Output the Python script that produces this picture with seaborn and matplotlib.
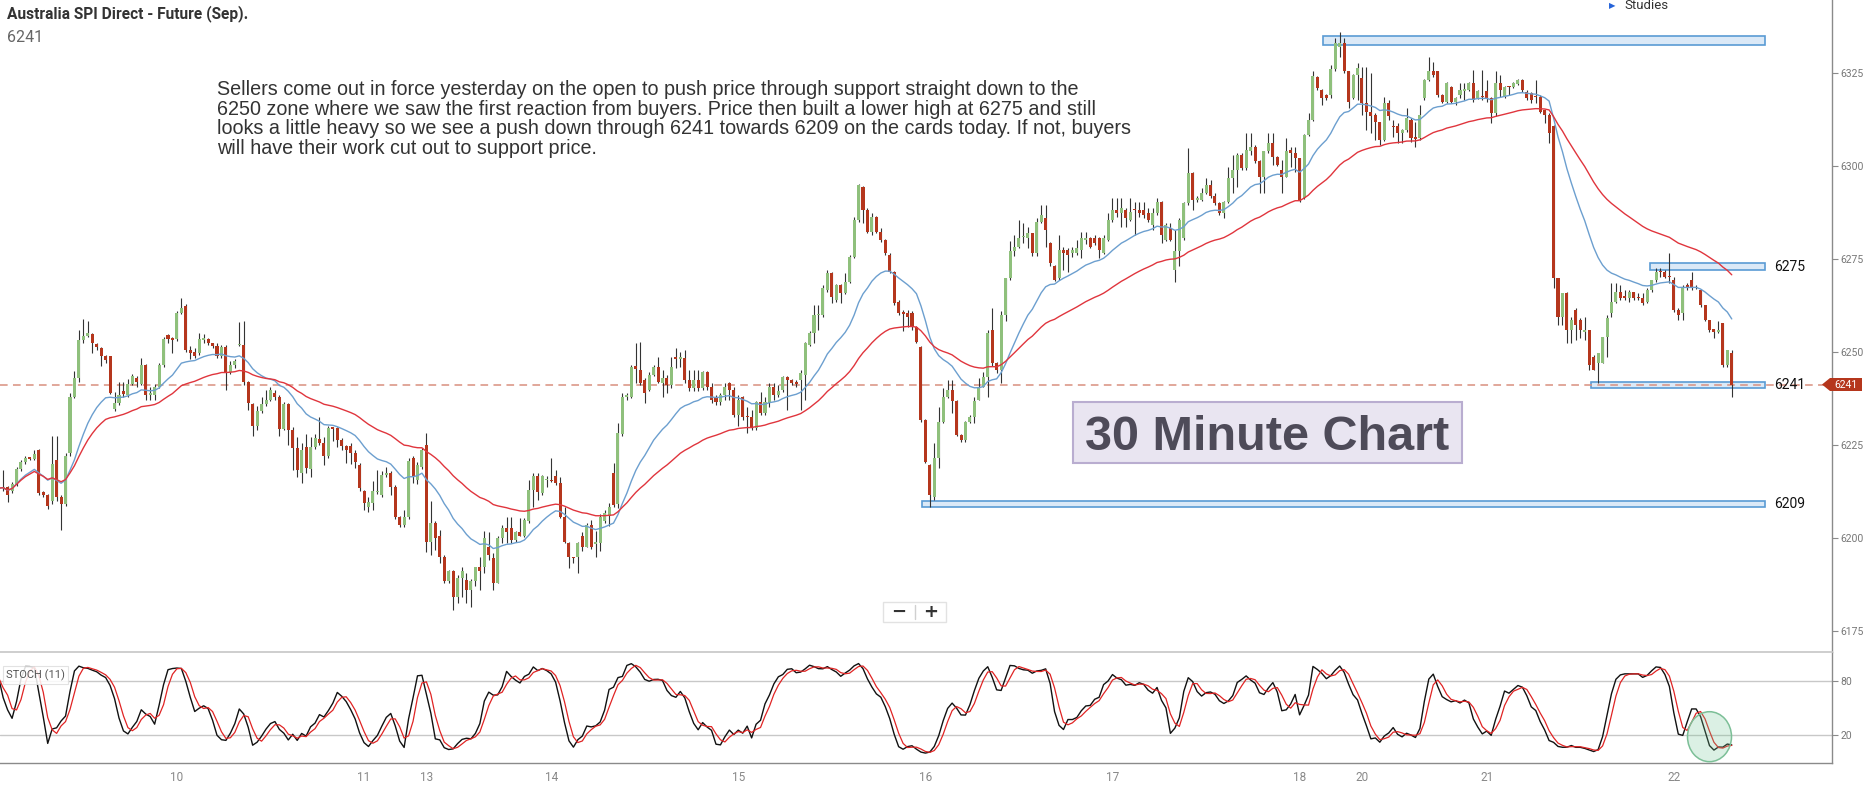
import numpy as np
import pandas as pd
import seaborn as sns
import matplotlib.pyplot as plt
from matplotlib.patches import Rectangle, Polygon, Ellipse
from matplotlib.lines import Line2D

W, H = 1868, 797

# 30 minute candles
opens = [
    6212.5, 6213.4, 6213.6, 6212.5, 6214.5, 6218.5, 6220.5, 6221.4, 6221.3, 6223.7,
    6212.3, 6211.6, 6210.0, 6221.0, 6211.0, 6209.2, 6222.8, 6238.0, 6243.0, 6253.1,
    6254.3, 6254.8, 6252.2, 6251.0, 6248.8, 6248.8, 6234.6, 6236.2, 6239.6, 6238.5,
    6241.4, 6242.9, 6241.5, 6246.5, 6238.5, 6238.3, 6240.5, 6246.5, 6254.6, 6253.4,
    6253.4, 6260.6, 6262.4, 6250.4, 6249.9, 6249.7, 6253.3, 6253.4, 6252.4, 6251.5,
    6248.8, 6251.3, 6244.5, 6246.4, 6251.8, 6252.0, 6242.0, 6236.0, 6230.0, 6234.2,
    6236.0, 6237.1, 6239.1, 6238.0, 6229.2, 6236.0, 6229.0, 6224.1, 6217.4, 6224.5,
    6218.5, 6224.5, 6226.5, 6225.5, 6221.9, 6229.5, 6229.5, 6226.4, 6224.6, 6224.6,
    6222.8, 6219.6, 6212.5, 6208.4, 6209.3, 6212.4, 6211.6, 6216.8, 6217.4, 6213.8,
    6205.7, 6203.5, 6205.7, 6221.4, 6215.6, 6219.2, 6225.0, 6199.0, 6204.0, 6200.4,
    6195.0, 6188.5, 6191.0, 6184.2, 6189.2, 6188.8, 6186.0, 6188.3, 6192.3, 6192.3,
    6197.7, 6194.5, 6188.0, 6200.0, 6202.6, 6202.6, 6199.5, 6201.7, 6200.5, 6204.5,
    6212.9, 6216.7, 6212.0, 6215.6, 6215.5, 6216.7, 6214.7, 6205.7, 6198.6, 6194.6,
    6195.0, 6200.4, 6197.7, 6203.5, 6198.5, 6198.6, 6204.5, 6206.0, 6217.4, 6209.0,
    6228.0, 6238.0, 6238.0, 6246.2, 6245.1, 6242.5, 6239.8, 6243.8, 6246.0, 6241.6,
    6242.9, 6241.1, 6248.3, 6248.2, 6248.3, 6242.5, 6240.2, 6242.5, 6240.2, 6244.6,
    6240.6, 6238.0, 6236.6, 6238.5, 6241.6, 6239.8, 6233.0, 6238.0, 6232.6, 6232.6,
    6229.5, 6236.6, 6233.5, 6236.2, 6240.6, 6238.5, 6239.8, 6243.4, 6242.5, 6241.6,
    6242.5, 6243.8, 6252.0, 6255.0, 6259.9, 6259.9, 6266.7, 6271.1, 6264.0, 6268.0,
    6265.8, 6268.9, 6275.6, 6285.5, 6294.4, 6288.2, 6282.3, 6286.4, 6282.3, 6280.1,
    6276.0, 6271.6, 6263.5, 6260.4, 6260.4, 6260.4, 6256.8, 6251.4, 6231.7, 6219.6,
    6211.1, 6221.4, 6231.3, 6238.0, 6239.8, 6236.7, 6227.7, 6226.4, 6231.3, 6232.6,
    6237.0, 6240.7, 6243.4, 6255.9, 6247.0, 6245.2, 6260.0, 6269.8, 6277.0, 6278.3,
    6280.8, 6280.6, 6281.9, 6276.5, 6285.0, 6285.9, 6279.2, 6273.0, 6269.8, 6277.4,
    6277.4, 6276.5, 6276.5, 6277.4, 6280.0, 6280.6, 6280.6, 6280.6, 6276.5, 6280.1,
    6285.5, 6288.2, 6287.3, 6288.2, 6285.5, 6288.2, 6288.2, 6288.2, 6287.3, 6284.1,
    6287.3, 6290.4, 6280.1, 6283.2, 6272.1, 6277.0, 6280.6, 6290.0, 6298.0, 6290.9,
    6290.9, 6292.7, 6294.9, 6291.8, 6290.0, 6287.3, 6290.4, 6296.7, 6298.9, 6303.0,
    6299.4, 6303.9, 6305.2, 6301.2, 6297.1, 6303.9, 6306.1, 6302.5, 6298.9, 6297.1,
    6304.3, 6303.4, 6302.1, 6291.3, 6308.3, 6312.4, 6324.0, 6320.4, 6319.1, 6319.1,
    6326.0, 6332.1, 6333.0, 6325.4, 6318.2, 6324.5, 6323.6, 6316.8, 6314.6, 6313.7,
    6311.9, 6307.0, 6316.8, 6310.6, 6310.6, 6308.8, 6309.7, 6312.4, 6307.4, 6307.4,
    6318.2, 6323.1, 6325.4, 6325.4, 6319.1, 6317.3, 6321.3, 6317.3, 6319.1, 6320.2,
    6320.4, 6322.2, 6318.2, 6318.6, 6320.2, 6318.2, 6314.2, 6322.2, 6318.6, 6321.3,
    6321.3, 6321.9, 6323.1, 6320.0, 6319.5, 6318.6, 6318.6, 6315.0, 6313.7, 6310.6,
    6269.8, 6259.5, 6265.8, 6255.9, 6261.3, 6258.6, 6255.4, 6255.9, 6248.7, 6247.0,
    6247.0, 6254.1, 6260.4, 6263.5, 6266.2, 6265.0, 6264.4, 6266.2, 6264.5, 6264.4,
    6263.5, 6266.6, 6269.3, 6271.6, 6271.6, 6270.2, 6269.3, 6261.3, 6260.4, 6268.0,
    6269.3, 6267.1, 6266.6, 6262.6, 6258.6, 6256.3, 6255.4, 6257.7, 6246.5, 6249.6,
]
highs = [
    6214.0, 6218.3, 6214.0, 6215.0, 6219.0, 6221.0, 6222.0, 6221.6, 6223.7, 6223.9,
    6212.5, 6211.8, 6227.3, 6227.3, 6211.5, 6222.8, 6239.0, 6245.0, 6256.0, 6258.8,
    6258.2, 6255.0, 6252.4, 6251.3, 6249.2, 6249.0, 6239.3, 6242.0, 6242.0, 6242.8,
    6244.0, 6243.5, 6248.3, 6246.8, 6240.5, 6241.5, 6247.0, 6254.0, 6254.9, 6254.0,
    6261.0, 6264.5, 6263.0, 6251.5, 6251.0, 6255.0, 6254.9, 6253.8, 6252.5, 6252.5,
    6252.0, 6252.0, 6247.5, 6248.0, 6258.0, 6258.2, 6242.2, 6236.2, 6235.5, 6238.0,
    6239.8, 6240.5, 6239.8, 6238.5, 6236.5, 6236.4, 6229.9, 6227.2, 6225.5, 6228.0,
    6227.2, 6228.0, 6232.6, 6227.2, 6230.0, 6229.9, 6229.9, 6226.8, 6225.0, 6225.5,
    6223.7, 6220.1, 6213.0, 6211.0, 6215.2, 6218.3, 6217.9, 6219.0, 6218.0, 6214.2,
    6206.0, 6207.5, 6221.5, 6221.9, 6220.5, 6224.1, 6228.1, 6210.0, 6204.5, 6202.2,
    6195.5, 6191.5, 6191.5, 6190.0, 6192.3, 6190.5, 6189.0, 6192.3, 6195.0, 6202.0,
    6201.7, 6195.9, 6200.5, 6203.5, 6205.7, 6205.7, 6202.0, 6205.3, 6205.5, 6215.6,
    6217.4, 6217.4, 6216.8, 6216.7, 6221.4, 6218.3, 6216.5, 6208.4, 6199.0, 6195.0,
    6199.0, 6201.5, 6204.0, 6204.9, 6202.0, 6206.5, 6207.5, 6209.5, 6220.1, 6230.8,
    6238.9, 6238.9, 6246.5, 6252.3, 6252.8, 6243.0, 6244.6, 6246.5, 6248.7, 6245.1,
    6243.8, 6248.7, 6251.0, 6250.0, 6250.5, 6245.1, 6245.1, 6245.1, 6244.8, 6244.8,
    6241.6, 6238.5, 6239.0, 6241.6, 6241.8, 6240.6, 6238.4, 6238.1, 6235.3, 6234.4,
    6236.8, 6239.3, 6238.0, 6241.6, 6241.6, 6241.1, 6243.6, 6243.6, 6242.8, 6242.5,
    6245.1, 6252.8, 6255.5, 6262.6, 6262.6, 6268.0, 6272.0, 6271.4, 6268.2, 6268.2,
    6271.1, 6276.0, 6286.4, 6295.2, 6294.6, 6288.6, 6287.3, 6286.6, 6283.2, 6280.3,
    6276.5, 6271.8, 6264.0, 6261.3, 6261.3, 6260.9, 6257.0, 6251.6, 6232.0, 6220.0,
    6225.5, 6235.3, 6240.3, 6242.5, 6242.5, 6237.0, 6228.0, 6231.5, 6233.0, 6238.0,
    6242.9, 6244.7, 6255.9, 6261.8, 6247.2, 6260.9, 6270.0, 6279.7, 6281.5, 6285.5,
    6284.6, 6283.7, 6282.0, 6285.9, 6289.5, 6289.5, 6279.5, 6273.5, 6281.5, 6278.3,
    6277.9, 6278.3, 6280.0, 6282.3, 6282.3, 6281.0, 6281.5, 6281.0, 6281.5, 6287.3,
    6291.3, 6291.3, 6291.3, 6288.6, 6291.3, 6290.4, 6290.4, 6290.4, 6288.6, 6288.6,
    6291.3, 6290.6, 6284.6, 6284.6, 6282.8, 6285.9, 6290.4, 6304.8, 6298.5, 6291.8,
    6294.0, 6296.7, 6296.3, 6292.7, 6290.4, 6290.6, 6299.8, 6303.0, 6303.4, 6303.4,
    6308.8, 6308.8, 6305.6, 6301.6, 6304.0, 6308.8, 6308.8, 6302.6, 6301.6, 6307.4,
    6305.2, 6305.2, 6302.1, 6308.5, 6314.2, 6325.4, 6324.2, 6320.6, 6319.3, 6327.0,
    6334.3, 6336.1, 6334.3, 6325.4, 6324.7, 6327.6, 6326.7, 6326.7, 6324.9, 6314.2,
    6311.9, 6318.6, 6317.7, 6312.4, 6311.5, 6309.8, 6315.5, 6312.8, 6311.9, 6316.4,
    6323.5, 6329.4, 6328.0, 6325.6, 6319.3, 6322.5, 6321.5, 6318.4, 6322.2, 6322.2,
    6322.5, 6325.8, 6320.5, 6325.8, 6323.1, 6318.4, 6325.4, 6324.5, 6321.5, 6321.5,
    6322.5, 6323.3, 6323.3, 6320.4, 6320.0, 6323.1, 6319.1, 6315.0, 6314.2, 6311.0,
    6269.8, 6265.8, 6266.2, 6259.5, 6261.7, 6259.0, 6259.5, 6255.9, 6249.1, 6249.6,
    6254.1, 6259.9, 6268.4, 6268.4, 6268.0, 6266.6, 6266.6, 6266.2, 6265.8, 6265.8,
    6267.1, 6269.3, 6272.5, 6272.5, 6272.0, 6276.5, 6270.2, 6261.7, 6268.0, 6268.4,
    6271.6, 6268.0, 6266.6, 6262.6, 6258.6, 6256.3, 6258.2, 6257.7, 6250.5, 6250.5,
]
lows = [
    6210.5, 6212.5, 6209.8, 6212.0, 6214.0, 6218.0, 6220.0, 6221.0, 6221.0, 6211.5,
    6211.0, 6207.7, 6209.0, 6210.0, 6202.2, 6208.6, 6222.0, 6237.5, 6242.0, 6252.5,
    6254.0, 6249.7, 6250.4, 6246.3, 6247.0, 6238.8, 6234.2, 6235.8, 6238.0, 6238.0,
    6241.0, 6240.5, 6241.0, 6237.0, 6237.0, 6237.1, 6240.3, 6246.0, 6252.5, 6249.7,
    6253.0, 6260.3, 6250.0, 6248.0, 6248.3, 6249.2, 6252.5, 6252.0, 6251.0, 6248.5,
    6248.5, 6239.8, 6244.0, 6245.8, 6251.5, 6241.0, 6234.3, 6227.5, 6229.0, 6233.5,
    6235.5, 6236.8, 6237.0, 6227.5, 6229.0, 6225.0, 6218.3, 6216.5, 6214.7, 6217.4,
    6216.5, 6224.0, 6225.0, 6219.6, 6221.5, 6226.0, 6224.5, 6223.7, 6220.1, 6219.9,
    6218.7, 6212.5, 6207.5, 6207.0, 6207.5, 6211.8, 6211.1, 6216.5, 6211.6, 6205.2,
    6203.0, 6203.0, 6205.0, 6214.7, 6214.5, 6218.5, 6196.3, 6195.4, 6196.8, 6193.2,
    6188.0, 6187.8, 6180.7, 6182.4, 6184.2, 6182.4, 6181.5, 6187.0, 6186.0, 6190.5,
    6194.0, 6186.0, 6187.8, 6198.6, 6198.6, 6198.6, 6199.0, 6200.4, 6200.2, 6204.0,
    6208.4, 6210.2, 6211.5, 6213.8, 6215.0, 6214.2, 6205.5, 6198.6, 6191.8, 6193.2,
    6190.5, 6196.5, 6197.5, 6197.0, 6195.0, 6196.5, 6204.0, 6203.1, 6208.4, 6208.0,
    6227.5, 6237.0, 6237.5, 6241.6, 6241.0, 6236.2, 6239.5, 6243.5, 6241.6, 6238.0,
    6238.9, 6240.2, 6245.6, 6246.0, 6241.6, 6239.5, 6239.5, 6239.5, 6239.8, 6239.8,
    6236.2, 6235.8, 6235.8, 6237.1, 6237.1, 6232.6, 6230.0, 6231.7, 6228.1, 6229.0,
    6229.0, 6233.0, 6233.0, 6235.3, 6237.1, 6238.0, 6239.3, 6234.4, 6241.0, 6240.6,
    6234.4, 6237.1, 6251.5, 6252.3, 6255.9, 6259.5, 6266.2, 6263.1, 6263.5, 6263.1,
    6265.5, 6268.5, 6275.2, 6285.0, 6284.6, 6281.9, 6281.5, 6281.9, 6279.6, 6276.0,
    6271.1, 6262.6, 6260.0, 6255.5, 6256.8, 6255.9, 6252.5, 6231.3, 6220.1, 6208.4,
    6210.2, 6218.7, 6231.0, 6237.6, 6233.5, 6227.3, 6225.9, 6225.9, 6231.0, 6230.8,
    6237.0, 6240.5, 6238.0, 6246.1, 6244.3, 6241.6, 6258.2, 6269.4, 6275.7, 6278.0,
    6279.2, 6277.9, 6275.7, 6275.7, 6284.6, 6278.3, 6273.0, 6269.0, 6269.4, 6272.1,
    6271.6, 6275.5, 6276.0, 6275.2, 6279.0, 6277.9, 6278.8, 6275.2, 6276.3, 6279.8,
    6285.0, 6286.4, 6283.7, 6283.7, 6285.2, 6281.5, 6286.4, 6286.0, 6285.0, 6282.8,
    6286.8, 6279.2, 6279.8, 6279.8, 6268.9, 6273.0, 6280.1, 6289.5, 6288.2, 6290.4,
    6290.5, 6292.5, 6291.3, 6289.5, 6286.8, 6285.9, 6290.0, 6292.7, 6294.4, 6298.9,
    6299.0, 6303.0, 6300.7, 6292.7, 6292.7, 6303.5, 6300.3, 6300.0, 6292.7, 6296.9,
    6299.8, 6298.5, 6290.4, 6291.0, 6308.0, 6312.0, 6320.4, 6316.4, 6317.7, 6318.2,
    6325.4, 6329.4, 6324.9, 6315.5, 6318.0, 6317.7, 6313.7, 6309.7, 6308.8, 6307.0,
    6305.6, 6306.8, 6312.4, 6307.9, 6306.1, 6306.1, 6309.2, 6306.5, 6305.2, 6307.0,
    6317.8, 6322.7, 6324.0, 6318.6, 6316.8, 6317.0, 6317.0, 6316.4, 6318.2, 6317.7,
    6320.2, 6317.3, 6318.0, 6317.7, 6317.3, 6311.5, 6313.3, 6318.6, 6318.2, 6319.1,
    6321.0, 6321.7, 6320.0, 6317.7, 6317.0, 6316.8, 6314.2, 6311.5, 6306.1, 6267.1,
    6257.2, 6257.2, 6252.3, 6252.3, 6253.2, 6253.7, 6253.2, 6245.2, 6245.2, 6241.6,
    6247.0, 6248.7, 6259.5, 6263.1, 6264.0, 6264.0, 6263.5, 6264.0, 6264.0, 6262.6,
    6263.1, 6266.2, 6268.9, 6270.2, 6269.8, 6268.4, 6260.8, 6258.6, 6258.6, 6266.6,
    6266.6, 6266.8, 6262.2, 6258.2, 6255.4, 6253.7, 6255.0, 6246.0, 6246.0, 6238.0,
]
closes = [
    6213.4, 6213.6, 6211.6, 6214.5, 6218.5, 6220.5, 6221.5, 6221.3, 6222.6, 6212.0,
    6211.6, 6208.6, 6220.0, 6211.0, 6209.2, 6222.0, 6238.0, 6243.0, 6253.1, 6254.3,
    6255.0, 6252.4, 6251.3, 6248.8, 6247.9, 6239.1, 6236.4, 6238.5, 6238.7, 6241.4,
    6243.6, 6242.0, 6246.5, 6238.5, 6238.6, 6240.5, 6246.5, 6253.4, 6253.4, 6253.3,
    6260.6, 6261.8, 6250.4, 6249.7, 6249.0, 6253.4, 6253.4, 6252.4, 6251.5, 6248.8,
    6251.3, 6244.5, 6246.4, 6247.6, 6252.0, 6242.0, 6236.2, 6230.0, 6234.2, 6236.0,
    6237.1, 6239.8, 6238.0, 6229.2, 6236.0, 6229.0, 6224.1, 6218.3, 6223.7, 6218.7,
    6224.5, 6226.8, 6225.6, 6221.9, 6229.5, 6229.4, 6226.4, 6224.6, 6223.7, 6222.8,
    6220.5, 6213.4, 6209.3, 6209.8, 6212.5, 6212.5, 6216.8, 6217.4, 6213.8, 6205.7,
    6203.5, 6205.7, 6220.8, 6216.5, 6219.6, 6223.7, 6199.0, 6204.0, 6200.0, 6195.0,
    6188.3, 6191.0, 6184.2, 6189.2, 6191.0, 6186.0, 6188.3, 6192.3, 6191.0, 6200.0,
    6195.4, 6187.8, 6200.0, 6202.6, 6201.7, 6199.5, 6201.7, 6200.6, 6204.9, 6212.9,
    6216.7, 6212.4, 6216.7, 6215.7, 6215.3, 6214.7, 6205.7, 6199.0, 6195.0, 6194.5,
    6198.6, 6197.5, 6203.5, 6197.7, 6198.6, 6205.7, 6206.6, 6208.4, 6208.9, 6228.1,
    6238.0, 6238.1, 6246.0, 6245.3, 6241.6, 6238.9, 6243.8, 6246.0, 6242.0, 6242.9,
    6241.1, 6246.0, 6248.2, 6248.3, 6242.5, 6240.2, 6242.5, 6240.2, 6244.6, 6240.6,
    6237.1, 6236.6, 6238.5, 6240.6, 6239.8, 6233.0, 6237.1, 6232.6, 6232.5, 6229.5,
    6236.6, 6233.5, 6236.6, 6240.6, 6238.5, 6239.6, 6243.4, 6242.5, 6241.6, 6241.5,
    6244.3, 6252.3, 6255.0, 6259.9, 6260.0, 6267.1, 6271.1, 6264.9, 6268.0, 6265.8,
    6268.9, 6275.6, 6285.5, 6294.9, 6288.2, 6282.3, 6286.4, 6282.3, 6280.1, 6276.5,
    6271.6, 6263.1, 6260.4, 6260.3, 6259.5, 6256.8, 6252.8, 6231.7, 6220.5, 6211.5,
    6221.4, 6231.3, 6238.0, 6239.8, 6236.7, 6227.7, 6226.4, 6231.3, 6232.6, 6236.7,
    6240.7, 6243.4, 6255.0, 6247.0, 6245.2, 6260.0, 6269.8, 6277.0, 6278.3, 6280.6,
    6280.9, 6281.9, 6276.5, 6285.0, 6286.8, 6282.8, 6273.9, 6269.4, 6277.4, 6276.5,
    6276.1, 6277.4, 6277.9, 6280.6, 6280.6, 6278.3, 6279.2, 6277.4, 6280.6, 6285.5,
    6288.2, 6287.3, 6288.6, 6285.9, 6287.7, 6288.1, 6287.3, 6286.8, 6285.5, 6287.3,
    6290.4, 6281.5, 6284.1, 6280.1, 6277.0, 6285.5, 6290.0, 6298.0, 6290.9, 6291.0,
    6292.7, 6294.9, 6291.8, 6290.0, 6287.3, 6290.4, 6296.7, 6298.9, 6303.0, 6299.4,
    6304.3, 6305.2, 6301.2, 6297.1, 6303.9, 6306.1, 6302.5, 6300.3, 6297.1, 6303.9,
    6303.4, 6302.1, 6290.9, 6308.3, 6312.4, 6324.2, 6320.9, 6318.2, 6318.2, 6326.0,
    6333.0, 6333.0, 6325.4, 6317.3, 6324.5, 6326.3, 6316.8, 6314.6, 6313.3, 6311.9,
    6307.0, 6316.8, 6313.3, 6310.5, 6308.8, 6309.7, 6312.8, 6307.4, 6307.3, 6313.7,
    6323.1, 6325.4, 6324.5, 6319.1, 6317.3, 6322.2, 6317.3, 6318.2, 6320.4, 6320.3,
    6322.2, 6317.7, 6320.2, 6318.5, 6318.2, 6314.2, 6322.2, 6320.4, 6321.3, 6321.2,
    6322.2, 6323.1, 6320.4, 6318.2, 6317.7, 6318.5, 6314.6, 6313.7, 6308.8, 6269.8,
    6259.5, 6265.8, 6255.9, 6258.6, 6257.3, 6255.9, 6255.9, 6246.5, 6245.2, 6249.6,
    6254.1, 6259.0, 6263.5, 6266.2, 6264.4, 6264.4, 6266.2, 6264.4, 6264.4, 6263.1,
    6266.6, 6269.3, 6271.6, 6271.5, 6270.2, 6270.1, 6261.3, 6259.9, 6267.5, 6267.1,
    6267.5, 6267.5, 6262.6, 6258.6, 6255.9, 6255.4, 6255.9, 6246.5, 6250.5, 6241.2,
]

day_ticks = [40, 82, 96, 124, 166, 208, 250, 292, 306, 334, 376]
day_labels = ['10', '11', '13', '14', '15', '16', '17', '18', '20', '21', '22']
price_ticks = [6175, 6200, 6225, 6250, 6275, 6300, 6325]
stoch_levels = [20, 80]

# support / resistance zones drawn on the chart
zone_from = [297.3, 370.7, 357.4, 207.3]
zone_to = 396.5
zone_lo = [6332.4, 6272.0, 6240.4, 6208.4]
zone_hi = [6334.8, 6273.9, 6242.0, 6209.9]
zone_text = ['', '6275', '6241', '6209']

note_lines = [
    "Sellers come out in force yesterday on the open to push price through support straight down to the",
    "6250 zone where we saw the first reaction from buyers. Price then built a lower high at 6275 and still",
    "looks a little heavy so we see a push down through 6241 towards 6209 on the cards today. If not, buyers",
    "will have their work cut out to support price.",
]

GREEN = '#8fc07c'
RED = '#b5361d'
AXC = '#8a8a8a'


def fx(x):
    return x / W


def fy(y):
    return 1 - y / H


sns.set_theme(style='white')
plt.rcParams['font.family'] = ['Roboto', 'DejaVu Sans']

df = pd.DataFrame({'i': np.arange(len(closes)), 'open': opens, 'high': highs,
                   'low': lows, 'close': closes})
df['ema20'] = df['close'].ewm(span=20).mean()
df['ema50'] = df['close'].ewm(span=50).mean()
hh = df['high'].rolling(11, min_periods=1).max()
ll = df['low'].rolling(11, min_periods=1).min()
fast = 100 * (df['close'] - ll) / (hh - ll)
df['k'] = fast.rolling(3, min_periods=1).mean()
df['d'] = df['k'].rolling(3, min_periods=1).mean()

fig = plt.figure(figsize=(W / 100, H / 100), dpi=100)
ax = fig.add_axes([0, fy(652), fx(1832), 652 / H])
ax2 = fig.add_axes([0, fy(763), fx(1832), 111 / H])

xlim = (0.29, 411.5)

# --- price panel
o = df['open'].values
c = df['close'].values
top = np.maximum(df['high'].values, np.maximum(o, c))
bot = np.minimum(df['low'].values, np.minimum(o, c))
up = c >= o
ax.vlines(df['i'], bot, top, color='#333333', lw=0.8, zorder=2)
ax.bar(df['i'], np.maximum(np.abs(c - o), 0.35), bottom=np.minimum(o, c), width=0.68,
       color=np.where(up, GREEN, RED), linewidth=0, zorder=3)

sns.lineplot(data=df, x='i', y='ema20', ax=ax, color='#6c9fcf', lw=1.0, zorder=4)
sns.lineplot(data=df, x='i', y='ema50', ax=ax, color='#e0353d', lw=1.0, zorder=4)

for x0, lo, hi, lab in zip(zone_from, zone_lo, zone_hi, zone_text):
    ax.add_patch(Rectangle((x0, lo), zone_to - x0, hi - lo, fc='#dbe9f7', ec='#5a9bd4',
                           lw=1.2, zorder=1))
    if lab:
        ax.text(398.5, (lo + hi) / 2, lab, ha='left', va='center', fontsize=10,
                family=['Liberation Sans Narrow', 'Roboto'], color='#111111')

last = closes[-1]
ax.axhline(last, color='#d8907f', lw=1.1, ls=(0, (5, 3.5)), zorder=1.5)

ax.set_xlim(*xlim)
ax.set_ylim(6169.35, 6344.6)
ax.set_xticks([])
ax.yaxis.tick_right()
ax.set_yticks(price_ticks)
ax.tick_params(axis='y', length=4, width=0.8, color=AXC, labelcolor='#777777',
               labelsize=7.5, pad=2)
ax.set_xlabel('')
ax.set_ylabel('')
for s in ['left', 'top', 'bottom']:
    ax.spines[s].set_visible(False)
ax.spines['right'].set_color(AXC)
ax.spines['right'].set_linewidth(1.0)

# --- stochastic panel
for lv in stoch_levels:
    ax2.axhline(lv, color='#c8c8c8', lw=1.0, zorder=1)
sns.lineplot(data=df, x='i', y='k', ax=ax2, color='#111111', lw=1.0, zorder=3)
sns.lineplot(data=df, x='i', y='d', ax=ax2, color='#e02424', lw=0.9, zorder=4)
ax2.set_xlim(*xlim)
ax2.set_ylim(-10.1, 111.2)
ax2.yaxis.tick_right()
ax2.set_yticks(stoch_levels)
ax2.set_xticks(day_ticks)
ax2.set_xticklabels(day_labels)
ax2.tick_params(axis='y', length=4, width=0.8, color=AXC, labelcolor='#777777',
                labelsize=7.5, pad=2)
ax2.tick_params(axis='x', length=3, width=0.8, color=AXC, labelcolor='#888888',
                labelsize=8.5, pad=3)
ax2.set_xlabel('')
ax2.set_ylabel('')
ax2.spines['left'].set_visible(False)
ax2.spines['top'].set_color('#c8c8c8')
for s in ['right', 'bottom']:
    ax2.spines[s].set_color(AXC)
    ax2.spines[s].set_linewidth(1.0)
ax2.text(fx(6) / fx(1832), 0.79, 'STOCH (11)', transform=ax2.transAxes, fontsize=8,
         color='#555555', va='center', ha='left', zorder=6,
         bbox=dict(boxstyle='square,pad=0.3', fc='white', ec='#dddddd', lw=0.8, alpha=0.85))

# highlight circle on the oversold stochastic
fig.add_artist(Ellipse((fx(1709.5), fy(736.7)), 44 / W, 50 / H, transform=fig.transFigure,
                       fc=(0.45, 0.78, 0.58, 0.25), ec='#7cbf97', lw=1.1, zorder=5))

# --- header texts
fig.text(fx(7), fy(18.3), 'Australia SPI Direct - Future (Sep).', fontsize=11.2,
         fontweight='bold', family=['Liberation Sans Narrow', 'Roboto'], color='#333333',
         va='baseline')
fig.text(fx(7), fy(41.7), '6241', fontsize=11.5, color='#666666', va='baseline')

for k, line in enumerate(note_lines):
    fig.text(fx(217), fy(95 + 19.7 * k), line, fontsize=14.2,
             family=['Liberation Sans', 'DejaVu Sans'], color='#333333', va='baseline')

fig.text(fx(1609), fy(8), '\u25b6', fontsize=6, family='DejaVu Sans', color='#2563d9',
         va='baseline')
fig.text(fx(1624), fy(9), 'Studies', fontsize=9.5, color='#333333', va='baseline')

# "30 Minute Chart" banner
fig.add_artist(Rectangle((fx(1073), fy(463)), fx(1462) - fx(1073), 61 / H,
                         transform=fig.transFigure, fc='#e9e5f1', ec='#b9add0', lw=1.5))
fig.text(fx(1085), fy(450), '30 Minute Chart', fontsize=35, fontweight='bold',
         family=['Liberation Sans', 'DejaVu Sans'], color='#4e4b59', va='baseline')

# zoom control
fig.add_artist(Rectangle((fx(883), fy(622)), fx(946) - fx(883), 20 / H,
                         transform=fig.transFigure, fc='white', ec='#e2e2e2', lw=1.0))
fig.add_artist(Line2D([fx(915), fx(915)], [fy(605), fy(619)], transform=fig.transFigure,
                      color='#d0d0d0', lw=1.0))
fig.text(fx(899), fy(612), '\u2212', fontsize=13, fontweight='bold', color='#333333',
         ha='center', va='center', family=['DejaVu Sans'])
fig.text(fx(931), fy(612), '+', fontsize=13, fontweight='bold', color='#333333',
         ha='center', va='center', family=['DejaVu Sans'])

# last price badge
fig.add_artist(Polygon([(fx(1822), fy(384.5)), (fx(1830), fy(378)), (fx(1862), fy(378)),
                        (fx(1862), fy(391)), (fx(1830), fy(391))], closed=True,
                       transform=fig.transFigure, fc='#b5361c', ec='none'))
fig.text(fx(1846), fy(384.5), f'{int(last)}', fontsize=7.5, color='white', ha='center',
         va='center')

fig.savefig('out.png', dpi=100)
